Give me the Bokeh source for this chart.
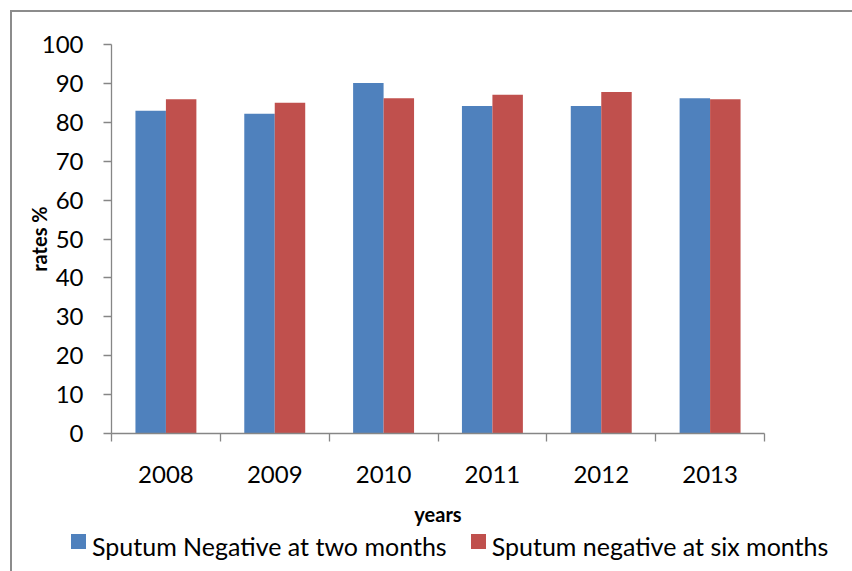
from bokeh.plotting import figure
from bokeh.layouts import column
from bokeh.models import (Range1d, LinearAxis, FixedTicker, SingleIntervalTicker,
                          ColumnDataSource, Div)
from bokeh.transform import dodge
from bokeh.embed import file_html
from bokeh.resources import INLINE

years = ["2008", "2009", "2010", "2011", "2012", "2013"]
two_months = [83.0, 82.2, 90.1, 84.2, 84.2, 86.2]
six_months = [85.9, 85.0, 86.2, 87.1, 87.8, 85.9]
series_names = ["Sputum Negative at two months", "Sputum negative at six months"]
series_colors = ["#4F81BD", "#C0504D"]

FONT = "Lato"
AXIS_COLOR = "#868686"

n = len(years)
centers = [i + 0.5 for i in range(n)]
edges = list(range(n + 1))
src = ColumnDataSource(dict(x=centers, years=years, two=two_months, six=six_months))

p = figure(width=840, height=516, output_backend="svg", toolbar_location=None,
           x_range=Range1d(0, n), y_range=Range1d(0, 100), x_axis_location=None,
           min_border_left=99, min_border_right=88, min_border_top=32, min_border_bottom=94)
p.outline_line_color = None
p.xgrid.visible = False
p.ygrid.visible = False
p.background_fill_color = "white"
p.border_fill_color = "white"

p.vbar(x=dodge("x", -0.14), top="two", width=0.28, source=src,
       color=series_colors[0], line_color=None)
p.vbar(x=dodge("x", 0.14), top="six", width=0.28, source=src,
       color=series_colors[1], line_color=None)

# y axis
ya = p.yaxis[0]
ya.ticker = SingleIntervalTicker(interval=10)
ya.axis_line_color = AXIS_COLOR
ya.axis_line_width = 1.3
ya.major_tick_line_color = AXIS_COLOR
ya.major_tick_line_width = 1.3
ya.major_tick_out = 8
ya.major_tick_in = 0
ya.minor_tick_line_color = None
ya.major_label_text_font = FONT
ya.major_label_text_font_size = "24px"
ya.major_label_text_color = "black"
ya.major_label_standoff = 20
ya.axis_label = "rates %"
ya.axis_label_text_font = FONT
ya.axis_label_text_font_size = "20px"
ya.axis_label_text_font_style = "bold"
ya.axis_label_text_color = "black"
ya.axis_label_standoff = -12

# x axis: labels at category centres, minor ticks at category boundaries
xa = LinearAxis(ticker=FixedTicker(ticks=centers, minor_ticks=edges),
                major_label_overrides={c: y for c, y in zip(centers, years)},
                axis_line_color=AXIS_COLOR, axis_line_width=1.3,
                major_tick_line_color=None, major_tick_out=0, major_tick_in=0,
                minor_tick_line_color=AXIS_COLOR, minor_tick_line_width=1.3,
                minor_tick_out=8, minor_tick_in=0,
                major_label_text_font=FONT, major_label_text_font_size="24px",
                major_label_text_color="black", major_label_standoff=24,
                axis_label="years", axis_label_text_font=FONT,
                axis_label_text_font_size="20px", axis_label_text_font_style="bold",
                axis_label_text_color="black", axis_label_standoff=16)
p.add_layout(xa, "below")

# legend strip below the chart
items_html = "".join(
    f'<div style="display:flex;align-items:flex-start;margin-right:24px;">'
    f'<span style="display:inline-block;width:15px;height:15px;background:{c};'
    f'margin-top:1px;margin-right:6px;"></span>'
    f'<span style="font-family:Lato;font-size:25px;line-height:26px;color:black;'
    f'white-space:nowrap;">{name}</span></div>'
    for name, c in zip(series_names, series_colors)
)
legend_div = Div(text=f'<div style="display:flex;flex-direction:row;margin-left:54px;">{items_html}</div>',
                 width=840, height=43)

layout = column(p, legend_div, spacing=0)
layout.styles = {"margin-left": "10px", "margin-top": "10px",
                 "border-left": "2px solid #8c8c8c", "border-top": "2px solid #8c8c8c"}

open("out.html", "w").write(file_html(layout, INLINE))
